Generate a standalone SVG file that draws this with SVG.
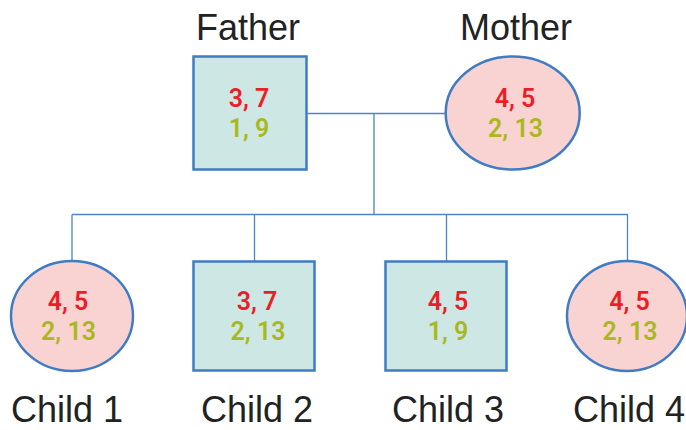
<svg xmlns="http://www.w3.org/2000/svg" width="686" height="430" viewBox="0 0 686 430">
<style>
.male{fill:#CDE8E4;stroke:#3F7CC4;stroke-width:2.5}
.female{fill:#F9D3D2;stroke:#3F7CC4;stroke-width:2.5}
.conn{stroke:#4A86C8;stroke-width:1.3;fill:none}
.a{font-family:Roboto,"Liberation Sans",sans-serif;font-size:25px;font-weight:600;fill:#EE1C25;text-anchor:middle}
.b{font-family:Roboto,"Liberation Sans",sans-serif;font-size:25px;font-weight:600;fill:#AAB820;text-anchor:middle}
.lbl{font-family:"Liberation Sans",Arial,sans-serif;font-size:36px;fill:#222;text-anchor:middle}
</style>
<rect width="686" height="430" fill="#fff"/>
<g id="connectors">
<path class="conn" d="M306 113.5H446M374 113.5V214.5M72 214.5H628M72 214.5V261M254.5 214.5V261M446.5 214.5V261M627.5 214.5V261"/>
</g>
<g id="father">
<text class="lbl" x="248" y="40">Father</text>
<rect class="male" x="193.5" y="56.5" width="113" height="113"/>
<text class="a" x="249" y="107">3, 7</text>
<text class="b" x="249" y="137">1, 9</text>
</g>
<g id="mother">
<text class="lbl" x="516" y="40">Mother</text>
<ellipse class="female" cx="512.7" cy="113" rx="67" ry="56.5"/>
<text class="a" x="515" y="107">4, 5</text>
<text class="b" x="515.5" y="137">2, 13</text>
</g>
<g id="child1">
<ellipse class="female" cx="72" cy="316" rx="61" ry="55"/>
<text class="a" x="68" y="310">4, 5</text>
<text class="b" x="68.5" y="340">2, 13</text>
<text class="lbl" x="67" y="422">Child 1</text>
</g>
<g id="child2">
<rect class="male" x="193.5" y="261.5" width="121" height="109"/>
<text class="a" x="257" y="310">3, 7</text>
<text class="b" x="258" y="340">2, 13</text>
<text class="lbl" x="257" y="422">Child 2</text>
</g>
<g id="child3">
<rect class="male" x="385.5" y="261.5" width="121" height="109"/>
<text class="a" x="448" y="310">4, 5</text>
<text class="b" x="448" y="340">1, 9</text>
<text class="lbl" x="448" y="422">Child 3</text>
</g>
<g id="child4">
<ellipse class="female" cx="627" cy="316" rx="60" ry="55"/>
<text class="a" x="629.5" y="310">4, 5</text>
<text class="b" x="630" y="340">2, 13</text>
<text class="lbl" x="629" y="422">Child 4</text>
</g>
</svg>
